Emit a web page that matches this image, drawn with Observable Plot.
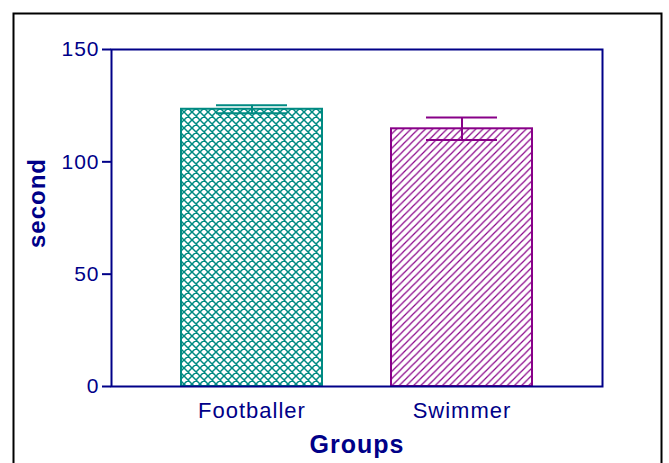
<!DOCTYPE html>
<html>
<head>
<meta charset="utf-8">
<script src="https://cdn.jsdelivr.net/npm/d3@7"></script>
<script src="https://cdn.jsdelivr.net/npm/@observablehq/plot@0.6"></script>
<style>
  body { margin: 0; background: #fff; }
</style>
</head>
<body>
<div id="chart"></div>
<script>
// ---- data ----
const groups = ["Footballer", "Swimmer"];
const means = [123.4, 114.7];
const sems = [1.8, 5.0];
const yTicks = [0, 50, 100, 150];
const yLabel = "second";
const xLabel = "Groups";

// ---- styles ----
const navy = "#000088";
const groupColor = { Footballer: "#008A82", Swimmer: "#880088" };
const groupPattern = { Footballer: "url(#pat-cross)", Swimmer: "url(#pat-hatch)" };

const data = groups.map((g, i) => ({
  group: g,
  mean: means[i],
  lo: means[i] - sems[i],
  hi: means[i] + sems[i],
  color: groupColor[g],
  pattern: groupPattern[g]
}));

const chart = Plot.plot({
  width: 669,
  height: 463,
  marginLeft: 111,
  marginRight: 67,
  marginTop: 49,
  marginBottom: 77,
  style: { fontFamily: "'Liberation Sans', Arial, sans-serif", fontSize: "21px", background: "#fff", letterSpacing: "1px" },
  x: { domain: groups, padding: 0.33, label: null },
  y: { domain: [0, 150], label: null },
  color: { type: "identity" },
  marks: [
    Plot.frame({ stroke: "black", strokeWidth: 2, insetLeft: -98, insetTop: -36, insetRight: -59, insetBottom: -90 }),
    Plot.barY(data, { x: "group", y: "mean", fill: "pattern", stroke: "color", strokeWidth: 2 }),
    Plot.ruleX(data, { x: "group", y1: "lo", y2: "hi", stroke: "color", strokeWidth: 2 }),
    Plot.tickY(data, { x: "group", y: "hi", stroke: "color", strokeWidth: 2, insetLeft: 35, insetRight: 35 }),
    Plot.tickY(data, { x: "group", y: "lo", stroke: "color", strokeWidth: 2, insetLeft: 35, insetRight: 35 }),
    Plot.frame({ stroke: navy, strokeWidth: 2 }),
    Plot.axisY({ ticks: yTicks, tickSize: 9, tickPadding: 3, color: navy, strokeWidth: 2, fontSize: 21, label: null }),
    Plot.axisX({ tickSize: 0, tickPadding: 16, color: navy, fontSize: 22, label: null }),
    Plot.text([yLabel], { text: d => d, frameAnchor: "left", textAnchor: "middle", lineAnchor: "middle", dx: -74, dy: -15, rotate: -90, fontWeight: "bold", fontSize: 24, fill: navy }),
    Plot.text([xLabel], { text: d => d, frameAnchor: "bottom", textAnchor: "middle", lineAnchor: "middle", dy: 58, fontWeight: "bold", fontSize: 25, fill: navy })
  ]
});

// pattern definitions
const defs = d3.select(chart).insert("defs", ":first-child");
const cross = defs.append("pattern")
  .attr("id", "pat-cross").attr("patternUnits", "userSpaceOnUse")
  .attr("width", 8).attr("height", 8);
cross.append("rect").attr("width", 8).attr("height", 8).attr("fill", "#fff");
cross.append("path")
  .attr("d", "M0,0L8,8M8,0L0,8M-1,7L1,9M7,-1L9,1M-1,1L1,-1M7,9L9,7")
  .attr("stroke", groupColor.Footballer).attr("stroke-width", 1.5);
const hatch = defs.append("pattern")
  .attr("id", "pat-hatch").attr("patternUnits", "userSpaceOnUse")
  .attr("width", 7.2).attr("height", 7.2);
hatch.append("rect").attr("width", 7.2).attr("height", 7.2).attr("fill", "#fff");
hatch.append("path")
  .attr("d", "M0,7.2L7.2,0M-1,1L1,-1M6.2,8.2L8.2,6.2")
  .attr("stroke", groupColor.Swimmer).attr("stroke-width", 1.2);

document.getElementById("chart").appendChild(chart);
</script>
</body>
</html>
